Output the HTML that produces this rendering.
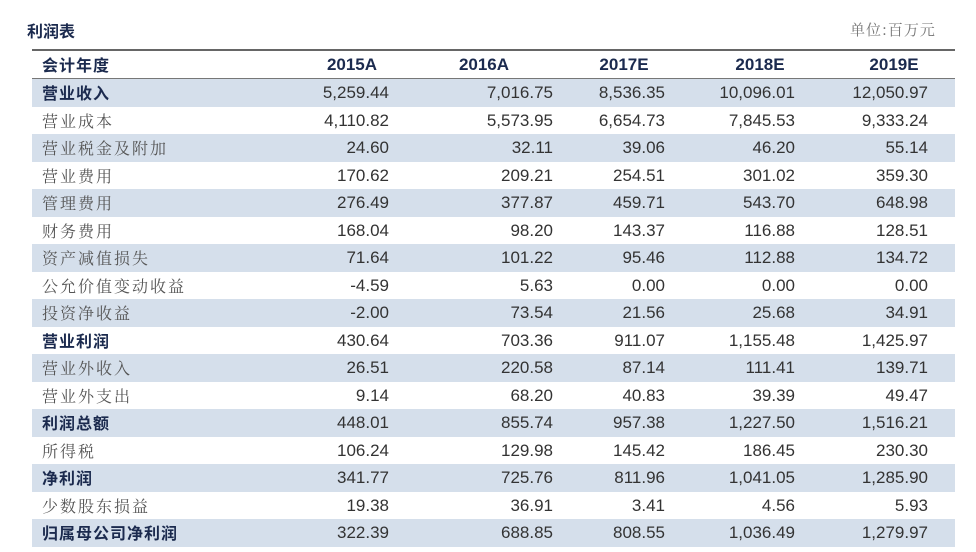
<!DOCTYPE html>
<html><head><meta charset="utf-8"><style>
html,body{margin:0;width:976px;height:552px;overflow:hidden}
body{background:#fff;font-family:"Liberation Sans","Noto Sans CJK SC",sans-serif;position:relative}
.t{position:absolute;white-space:nowrap}
.row{position:absolute;left:32px;width:923px;height:27.5px}
.sh{background:#d5dfeb}
.lab{position:absolute;left:10px;top:0;line-height:27px;font-family:"Noto Serif CJK SC","Liberation Serif",serif;font-size:16px;letter-spacing:2px;color:#555;white-space:nowrap}
.b .lab{font-family:"Noto Sans CJK SC",sans-serif;font-weight:bold;color:#1b2a4e;letter-spacing:1px}
.n{position:absolute;top:0;line-height:27px;font-size:17px;color:#333;text-align:right;width:130px}
</style></head><body>
<div class="t" style="left:27px;top:18px;font-family:'Noto Sans CJK SC',sans-serif;font-weight:bold;font-size:16px;line-height:24px;color:#1b2a4e">利润表</div>
<div class="t" style="left:850px;top:18px;font-family:'Noto Serif CJK SC',serif;font-size:15px;line-height:24px;color:#777;letter-spacing:1px">单位:百万元</div>
<div style="position:absolute;left:32px;top:49px;width:923px;height:2px;background:#666"></div>
<div class="row" style="top:51px;height:27px">
<div class="lab" style="font-family:'Noto Sans CJK SC',sans-serif;font-weight:bold;color:#1b2a4e;letter-spacing:1px">会计年度</div>
<div class="n" style="left:255px;text-align:center;font-weight:bold;color:#1b2a4e">2015A</div>
<div class="n" style="left:387px;text-align:center;font-weight:bold;color:#1b2a4e">2016A</div>
<div class="n" style="left:527px;text-align:center;font-weight:bold;color:#1b2a4e">2017E</div>
<div class="n" style="left:663px;text-align:center;font-weight:bold;color:#1b2a4e">2018E</div>
<div class="n" style="left:797px;text-align:center;font-weight:bold;color:#1b2a4e">2019E</div>
</div>
<div style="position:absolute;left:32px;top:78px;width:923px;height:1px;background:#777"></div>
<div id="rows"></div>
<script>
var d=[["营业收入",1,"5,259.44","7,016.75","8,536.35","10,096.01","12,050.97"],
["营业成本",0,"4,110.82","5,573.95","6,654.73","7,845.53","9,333.24"],
["营业税金及附加",0,"24.60","32.11","39.06","46.20","55.14"],
["营业费用",0,"170.62","209.21","254.51","301.02","359.30"],
["管理费用",0,"276.49","377.87","459.71","543.70","648.98"],
["财务费用",0,"168.04","98.20","143.37","116.88","128.51"],
["资产减值损失",0,"71.64","101.22","95.46","112.88","134.72"],
["公允价值变动收益",0,"-4.59","5.63","0.00","0.00","0.00"],
["投资净收益",0,"-2.00","73.54","21.56","25.68","34.91"],
["营业利润",1,"430.64","703.36","911.07","1,155.48","1,425.97"],
["营业外收入",0,"26.51","220.58","87.14","111.41","139.71"],
["营业外支出",0,"9.14","68.20","40.83","39.39","49.47"],
["利润总额",1,"448.01","855.74","957.38","1,227.50","1,516.21"],
["所得税",0,"106.24","129.98","145.42","186.45","230.30"],
["净利润",1,"341.77","725.76","811.96","1,041.05","1,285.90"],
["少数股东损益",0,"19.38","36.91","3.41","4.56","5.93"],
["归属母公司净利润",1,"322.39","688.85","808.55","1,036.49","1,279.97"],
["",0,"784.59","1,362.30","1,038.20","1,251.34","2,154.20"]];
var R=[389,553,665,795,928],h="";
d.forEach(function(r,i){h+='<div class="row'+(i%2==0?' sh':'')+(r[1]?' b':'')+'" style="top:'+(79+i*27.5)+'px"><div class="lab">'+r[0]+'</div>';
for(var k=0;k<5;k++)h+='<div class="n" style="left:'+(R[k]-32-130)+'px">'+r[k+2]+'</div>';h+='</div>';});
document.getElementById('rows').innerHTML=h;
</script>
</body></html>
